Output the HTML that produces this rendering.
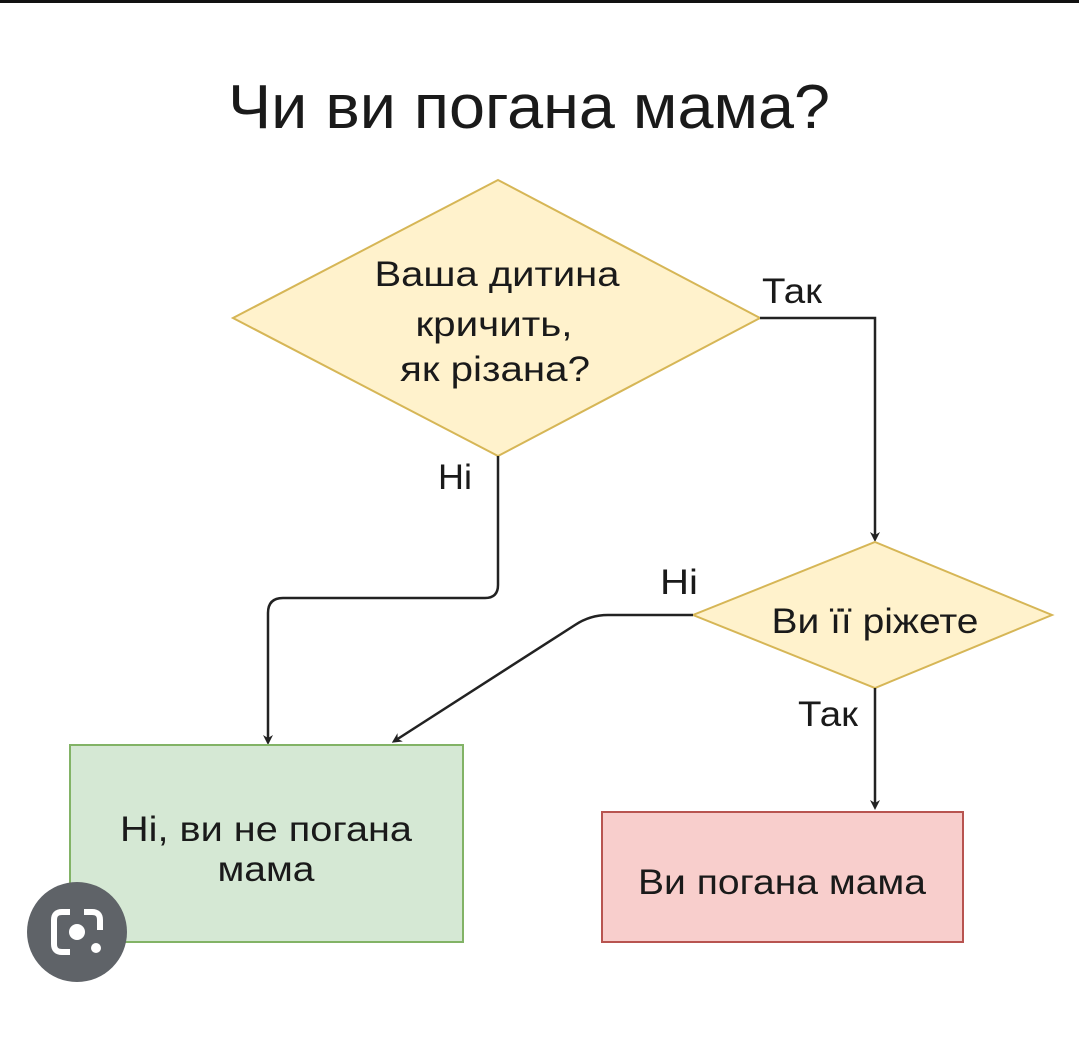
<!DOCTYPE html>
<html><head><meta charset="utf-8"><style>
html,body{margin:0;padding:0;background:#fff;}
svg{display:block;}
text{font-family:"Liberation Sans",sans-serif;fill:#1a1a1a;}
</style></head><body>
<svg width="1079" height="1050" viewBox="0 0 1079 1050" xmlns="http://www.w3.org/2000/svg">
<rect x="0" y="0" width="1079" height="3" fill="#111"/>
<defs><marker id="a" markerWidth="10" markerHeight="10" refX="5" refY="5" orient="auto" markerUnits="userSpaceOnUse"><path d="M0,0 L10,5 L0,10 L3,5 Z" fill="#222"/></marker></defs>
<polygon points="498,180 760,318 498,456 233,318" fill="#fff2cc" stroke="#d6b656" stroke-width="2"/>
<path d="M760,318 H875 V537" fill="none" stroke="#222" stroke-width="2.5" marker-end="url(#a)"/>
<polygon points="875,542 1052,615 875,688 693,615" fill="#fff2cc" stroke="#d6b656" stroke-width="2"/>
<path d="M693,615 H608 Q590,615 575,625 L396,740" fill="none" stroke="#222" stroke-width="2.5" marker-end="url(#a)"/>
<path d="M498,456 V585 Q498,598 485,598 H283 Q268,598 268,613 V740" fill="none" stroke="#222" stroke-width="2.5" marker-end="url(#a)"/>
<path d="M875,688 V805" fill="none" stroke="#222" stroke-width="2.5" marker-end="url(#a)"/>
<rect x="70" y="745" width="393" height="197" fill="#d5e8d4" stroke="#82b366" stroke-width="2"/>
<rect x="602" y="812" width="361" height="130" fill="#f8cecc" stroke="#b85450" stroke-width="2"/>
<text x="529" y="128" font-size="62" text-anchor="middle" textLength="602" lengthAdjust="spacingAndGlyphs">Чи ви погана мама?</text>
<g font-size="35" text-anchor="middle">
<text x="497" y="286" textLength="245" lengthAdjust="spacingAndGlyphs">Ваша дитина</text>
<text x="494" y="336" textLength="157" lengthAdjust="spacingAndGlyphs">кричить,</text>
<text x="495" y="381" textLength="190" lengthAdjust="spacingAndGlyphs">як різана?</text>
<text x="792" y="303" textLength="60" lengthAdjust="spacingAndGlyphs">Так</text>
<text x="875" y="633" textLength="207" lengthAdjust="spacingAndGlyphs">Ви її ріжете</text>
<text x="679" y="594" textLength="38" lengthAdjust="spacingAndGlyphs">Ні</text>
<text x="455" y="489" textLength="34" lengthAdjust="spacingAndGlyphs">Ні</text>
<text x="828" y="726" textLength="60" lengthAdjust="spacingAndGlyphs">Так</text>
<text x="266" y="841" textLength="292" lengthAdjust="spacingAndGlyphs">Ні, ви не погана</text>
<text x="266" y="881" textLength="97" lengthAdjust="spacingAndGlyphs">мама</text>
<text x="782" y="894" textLength="288" lengthAdjust="spacingAndGlyphs">Ви погана мама</text>
</g>
<circle cx="77" cy="932" r="50" fill="#5f6368"/>
<path d="M70,912 H62 Q54,912 54,920 V944 Q54,952 62,952 H70" fill="none" stroke="#fff" stroke-width="6"/>
<path d="M84,912 H92 Q100,912 100,920 V930" fill="none" stroke="#fff" stroke-width="6"/>
<circle cx="77" cy="932" r="8" fill="#fff"/>
<circle cx="96" cy="948" r="5" fill="#fff"/>
</svg>
</body></html>
